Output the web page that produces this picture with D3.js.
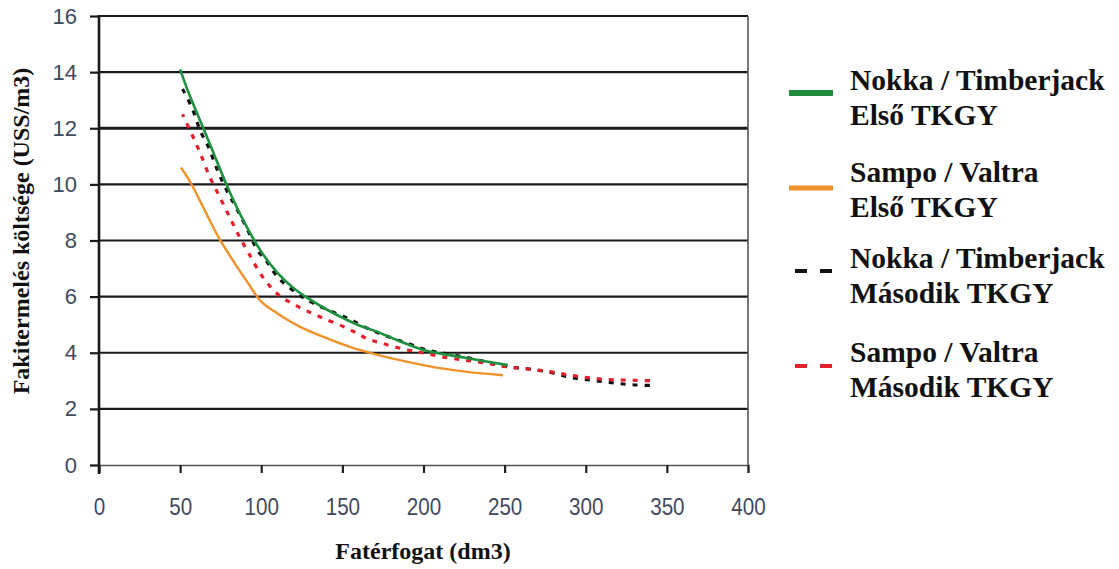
<!DOCTYPE html>
<html><head><meta charset="utf-8">
<script src="https://cdn.jsdelivr.net/npm/d3@7"></script>
<style>body{margin:0;background:#fff}</style>
</head><body>
<svg id="c" width="1119" height="569"></svg>
<script>
const xTicks = [0,50,100,150,200,250,300,350,400];
const yTicks = [0,2,4,6,8,10,12,14,16];

const greenX = [50,55,60,65,70,80,90,100,110,120,130,140,150,160,170,185,200,225,252];
const greenY = [14.1,13.3,12.6,11.9,11.2,9.8,8.6,7.6,6.85,6.3,5.9,5.55,5.25,4.98,4.78,4.42,4.1,3.83,3.56];

const orangeX = [50.5,56.6,64.6,73.8,83,91.7,100,110,124,141,155,173.5,194,210,227,249];
const orangeY = [10.6,10.05,9.14,8.1,7.25,6.5,5.82,5.4,4.92,4.5,4.2,3.9,3.63,3.45,3.32,3.2];

const blackX = [51.5,57.5,62.5,67.7,73,79,85.5,91.7,97.8,102.8,110.8,122.5,132.3,147,155,165.5,177,190,202,215,229,241,252,265,278.5,290.5,302.8,316,328.6,343];
const blackY = [13.4,12.7,11.9,11.3,10.5,9.75,9.07,8.36,7.64,7.3,6.65,6.1,5.76,5.38,5.18,4.87,4.6,4.34,4.1,3.96,3.8,3.64,3.5,3.42,3.3,3.12,3.03,2.93,2.86,2.83];

const redX = [51.5,57.5,62.5,68,74,80,85.5,92.3,101.5,111,122.5,135.4,153,165.5,176.6,190,201,215,227.7,240,251.7,265,278.5,290.5,302.8,316,328.6,343];
const redY = [12.5,11.75,11.1,10.3,9.6,8.9,8.25,7.54,6.65,6.05,5.65,5.3,4.87,4.5,4.3,4.1,3.98,3.82,3.72,3.62,3.5,3.42,3.32,3.2,3.1,3.04,3.02,3.0];

const seriesNames = [["Nokka / Timberjack","Első TKGY"],["Sampo / Valtra","Első TKGY"],["Nokka / Timberjack","Második TKGY"],["Sampo / Valtra","Második TKGY"]];

const svg = d3.select("#c");
const x = d3.scaleLinear().domain([0,400]).range([99,748]);
const y = d3.scaleLinear().domain([0,16]).range([465,16]);

// gridlines
svg.append("g").selectAll("line").data(yTicks.filter(d=>d>0)).join("line")
  .attr("x1",x(0)).attr("x2",x(400)).attr("y1",d=>y(d)).attr("y2",d=>y(d))
  .attr("stroke","#1a1a1a").attr("stroke-width",d=>d===12?3:2.2);
// right border
svg.append("line").attr("x1",x(400)).attr("x2",x(400)).attr("y1",y(16)).attr("y2",y(0)+1)
  .attr("stroke","#555").attr("stroke-width",1.6);

// x axis
const xa = svg.append("g").attr("transform",`translate(0,${y(0)})`)
  .call(d3.axisBottom(x).tickValues(xTicks).tickSize(8).tickPadding(25));
xa.select(".domain").attr("stroke","#555").attr("stroke-width",1.6);
xa.selectAll(".tick line").attr("stroke","#222").attr("stroke-width",2.2);
xa.selectAll(".tick text").attr("font-family","Liberation Sans, Arial").attr("font-size",24)
  .attr("fill","#3f4a5e").attr("transform","scale(0.86,1)");

// y axis
const ya = svg.append("g").attr("transform",`translate(${x(0)},0)`)
  .call(d3.axisLeft(y).tickValues(yTicks).tickSize(9).tickPadding(13));
ya.select(".domain").remove();
ya.selectAll(".tick line").attr("stroke","#1a1a1a").attr("stroke-width",2.2);
ya.selectAll(".tick text").attr("font-family","Liberation Sans, Arial").attr("font-size",22)
  .attr("fill","#3f4a5e");
svg.append("line").attr("x1",x(0)).attr("x2",x(0)).attr("y1",y(16)-1).attr("y2",y(0)+9)
  .attr("stroke","#1a1a1a").attr("stroke-width",2.6);

// axis titles
svg.append("text").attr("x",423).attr("y",559).attr("text-anchor","middle")
  .attr("font-family","Liberation Serif, Times New Roman").attr("font-weight","bold")
  .attr("font-size",24).attr("fill","#111").text("Fatérfogat (dm3)");
svg.append("text").attr("transform","translate(29,231) rotate(-90)").attr("text-anchor","middle")
  .attr("font-family","Liberation Serif, Times New Roman").attr("font-weight","bold")
  .attr("font-size",24).attr("fill","#111").text("Fakitermelés költsége (USS/m3)");

// lines
const line = d3.line().x(d=>x(d[0])).y(d=>y(d[1])).curve(d3.curveCatmullRom.alpha(0.5));
const zip = (a,b)=>a.map((v,i)=>[v,b[i]]);
svg.append("path").datum(zip(orangeX,orangeY)).attr("d",line).attr("fill","none")
  .attr("stroke","#f0922b").attr("stroke-width",2.4);
svg.append("path").datum(zip(blackX,blackY)).attr("d",line).attr("fill","none")
  .attr("stroke","#111").attr("stroke-width",3.2).attr("stroke-dasharray","5,7");
svg.append("path").datum(zip(redX,redY)).attr("d",line).attr("fill","none")
  .attr("stroke","#e3202c").attr("stroke-width",3.2).attr("stroke-dasharray","5,7").attr("stroke-dashoffset",2);
svg.append("path").datum(zip(greenX,greenY)).attr("d",line).attr("fill","none")
  .attr("stroke","#1e9140").attr("stroke-width",2.6);

// legend
const leg = [
  {c:"#1e8c3c", w:6, dash:null, ly:93, ty:[80,115]},
  {c:"#f0922b", w:5, dash:null, ly:188, ty:[172,207]},
  {c:"#111", w:4, dash:"12,13", ly:271, ty:[258,293]},
  {c:"#e3202c", w:4, dash:"12,13", ly:366, ty:[352,387]}
];
leg.forEach((l,i)=>{
  const ln = svg.append("line").attr("x1",l.dash?795:789).attr("x2",833).attr("y1",l.ly).attr("y2",l.ly)
    .attr("stroke",l.c).attr("stroke-width",l.w);
  if(l.dash) ln.attr("stroke-dasharray",l.dash);
  seriesNames[i].forEach((t,j)=>{
    svg.append("text").attr("x",850).attr("y",l.ty[j]+10)
      .attr("font-family","Liberation Serif, Times New Roman").attr("font-weight","bold")
      .attr("font-size",29.5).attr("fill","#111").text(t);
  });
});
</script>
</body></html>
